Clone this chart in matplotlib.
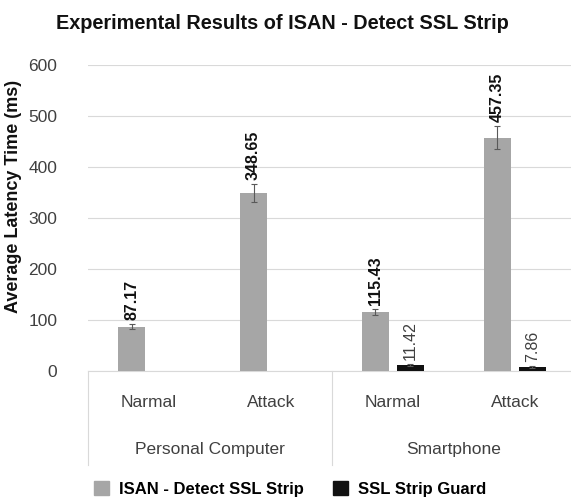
import numpy as np
import matplotlib
matplotlib.use('Agg')
import matplotlib.pyplot as plt
import matplotlib.transforms as mtransforms
from matplotlib.patches import Patch

plt.rcParams['font.family'] = ['Liberation Sans', 'DejaVu Sans']

# data
devices = ['Personal Computer', 'Smartphone']
conditions = ['Narmal', 'Attack', 'Narmal', 'Attack']
isan = [87.17, 348.65, 115.43, 457.35]
isan_err = [4.5, 18, 5.5, 22.5]
guard = [np.nan, np.nan, 11.42, 7.86]
guard_err = [np.nan, np.nan, 2.0, 1.5]
series_names = ['ISAN - Detect SSL Strip', 'SSL Strip Guard']

gray = '#a6a6a6'
black = '#111111'
txt = '#404040'

fig = plt.figure(figsize=(5.71, 5.0), dpi=100)
ax = fig.add_axes([88/571, 1-371/500, 483/571, 306/500])

x = np.arange(len(conditions))
w = 0.22
off = 0.143
ax.bar(x - off, isan, w, color=gray, yerr=isan_err, capsize=2.5,
       error_kw=dict(ecolor='#595959', elinewidth=0.8, capthick=0.8), zorder=3)
ax.bar(x + off, guard, w, color=black, yerr=guard_err, capsize=2.5,
       error_kw=dict(ecolor='#595959', elinewidth=0.8, capthick=0.8), zorder=3)

# value labels
for i in range(len(x)):
    ax.text(x[i] - off, isan[i] + isan_err[i] + 8, f'{isan[i]:.2f}', rotation=90,
            ha='center', va='bottom', fontsize=11.5, fontweight='bold', color='#111111')
    if not np.isnan(guard[i]):
        ax.text(x[i] + off, guard[i] + guard_err[i] + 8, f'{guard[i]:.2f}', rotation=90,
                ha='center', va='bottom', fontsize=11.5, color=txt)

ax.set_xlim(-0.5, 3.46)
ax.set_ylim(0, 600)
ax.set_yticks(np.arange(0, 601, 100))
ax.yaxis.grid(True, color='#d9d9d9', linewidth=0.8, zorder=0)
ax.set_axisbelow(True)
for s in ['top', 'right', 'left']:
    ax.spines[s].set_visible(False)
ax.spines['bottom'].set_color('#d9d9d9')
ax.tick_params(axis='y', length=0, labelsize=12.5, labelcolor=txt, pad=22)
ax.tick_params(axis='x', length=0)
ax.set_xticks([])

fig.text(14/571, 1-196/500, 'Average Latency Time (ms)', rotation=90,
         ha='center', va='center', fontsize=13, fontweight='bold', color='#111111')

# two-level category axis
trans = mtransforms.blended_transform_factory(ax.transData, ax.transAxes)
for i, c in enumerate(conditions):
    ax.text(x[i], -0.102, c, transform=trans, ha='center', va='center',
            fontsize=12.5, color=txt)
for j, d in enumerate(devices):
    ax.text(2*j + 0.5, -0.255, d, transform=trans, ha='center', va='center',
            fontsize=12.5, color=txt)
for sep in [-0.5, 1.5, 3.5]:
    ax.plot([sep, sep], [0, -0.307], transform=trans, color='#d9d9d9',
            linewidth=0.8, clip_on=False)

fig.suptitle('Experimental Results of ISAN - Detect SSL Strip', x=0.495, y=0.972,
             fontsize=14.3, fontweight='bold', color='#111111')

handles = [Patch(color=gray), Patch(color=black)]
fig.legend(handles, series_names, loc='center', bbox_to_anchor=(0.508, 0.022), ncol=2,
           frameon=False, prop=dict(weight='bold', size=12), handlelength=0.85,
           handleheight=0.85, columnspacing=1.8, handletextpad=0.6)

fig.savefig('out.png', dpi=100)
